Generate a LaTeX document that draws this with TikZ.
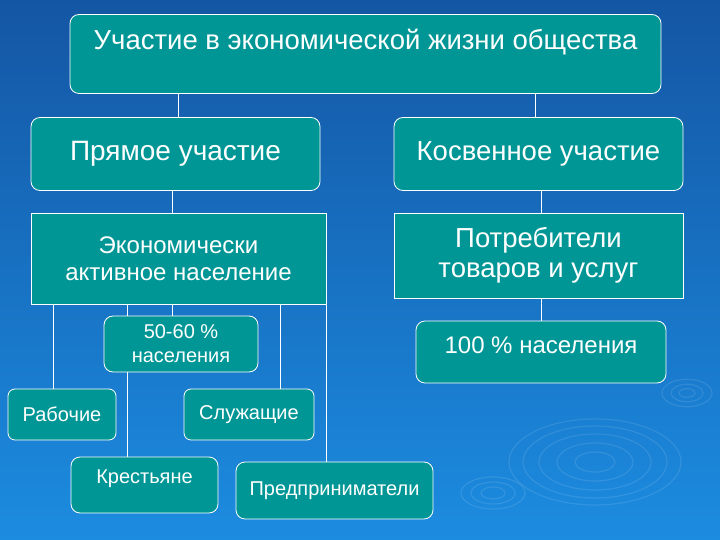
\documentclass[tikz,border=0pt]{standalone}
\usepackage{fontspec}
\setmainfont{Liberation Sans}
\usetikzlibrary{positioning, backgrounds}
\definecolor{bgtop}{RGB}{20,86,164}
\definecolor{bgbot}{RGB}{28,140,224}
\definecolor{boxteal}{RGB}{0,150,150}
\tikzset{
  ubox/.style={draw=white, line width=0.8pt, fill=boxteal, text=white, align=center, inner sep=0pt},
  rbox/.style={ubox, rounded corners=9pt},
  link/.style={draw=white, line width=0.8pt},
  ripple/.style={draw=white, opacity=0.1, line width=1.2pt}
}
\newcommand{\fsz}[2]{\fontsize{#1}{#2}\selectfont}

\begin{document}
\begin{tikzpicture}[x=1pt, y=-1pt]
\useasboundingbox (0,0) rectangle (720,540);
\begin{scope}[every node/.style={rbox}]
  \node (top) [minimum width=591, minimum height=79, text depth=30pt, font=\fsz{27.5}{31}] at (365.5,54) {Участие в экономической жизни общества};
  \node (prm) [minimum width=289, minimum height=73, font=\fsz{28}{31}] at (175.5,154) {Прямое участие};
  \node (kos) [minimum width=289, minimum height=73, font=\fsz{27.5}{31}] at (538.5,154) {Косвенное участие};
  \node (eco) [ubox, rounded corners=0pt, minimum width=295, minimum height=91, font=\fsz{24}{27}] at (178.5,258.5) {Экономически\\активное население};
  \node (potr) [ubox, rounded corners=0pt, minimum width=289, minimum height=85, font=\fsz{27.5}{30}] at (538.5,255.5) {Потребители\\товаров и услуг};
  \node (sto) [minimum width=250, minimum height=62, text depth=14pt, font=\fsz{24}{27}] at (541,352) {100 \% населения};
  \node (pct) [minimum width=154, minimum height=56, font=\fsz{20}{24}] at (181,344) {50-60 \%\\населения};
  \node (rab) [rounded corners=7pt, minimum width=108, minimum height=51, font=\fsz{20}{23}] at (62,414.5) {Рабочие};
  \node (slu) [rounded corners=7pt, minimum width=130, minimum height=51, font=\fsz{20}{23}] at (249,414.5) {Служащие};
  \node (kre) [minimum width=147, minimum height=56, text depth=16pt, font=\fsz{20}{23}] at (144.5,485) {Крестьяне};
  \node (pred) [minimum width=197, minimum height=57, font=\fsz{20}{23}] at (334.5,490.5) {Предприниматели};
\end{scope}
\begin{scope}[on background layer]
  \shade[top color=bgtop, bottom color=bgbot] (0,0) rectangle (720,540);
  % ripples
  \foreach \r in {20,38,56,72,86} \draw[ripple] (595,462) ellipse [x radius=\r pt, y radius=\r*0.5 pt];
  \foreach \r in {8,16,25} \draw[ripple] (687,393) ellipse [x radius=\r pt, y radius=\r*0.55 pt];
  \foreach \r in {12,22,32} \draw[ripple] (493,493) ellipse [x radius=\r pt, y radius=\r*0.5 pt];
  % links
  \draw[link] ([xshift=2.5pt]prm.north) -- ([xshift=2.5pt]prm.north |- top.south);
  \draw[link] ([xshift=-3.5pt]kos.north) -- ([xshift=-3.5pt]kos.north |- top.south);
  \draw[link] ([xshift=-3.5pt]prm.south) -- ([xshift=-3.5pt]prm.south |- eco.north);
  \draw[link] ([xshift=2.5pt]kos.south) -- ([xshift=2.5pt]kos.south |- potr.north);
  \draw[link] (sto.north) -- (sto.north |- potr.south);
  \draw[link] ([xshift=-9pt]rab.north) -- ([xshift=-9pt]rab.north |- eco.south);
  \draw[link] ([xshift=-17.5pt]kre.north) -- ([xshift=-17.5pt]kre.north |- eco.south);
  \draw[link] ([xshift=-9pt]pct.north) -- ([xshift=-9pt]pct.north |- eco.south);
  \draw[link] ([xshift=31pt]slu.north) -- ([xshift=31pt]slu.north |- eco.south);
  \draw[link] (eco.south east) -- (eco.south east |- pred.north);
\end{scope}
\end{tikzpicture}
\end{document}
